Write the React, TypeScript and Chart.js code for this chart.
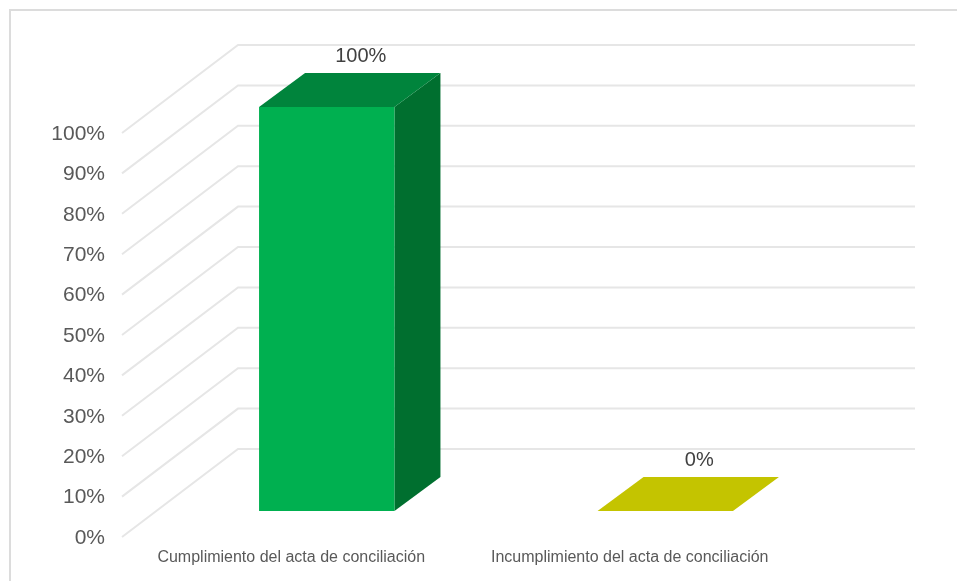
import React, { useEffect, useRef } from "react";
import { Chart, registerables } from "chart.js";

Chart.register(...registerables);

const categories = ["Cumplimiento del acta de conciliación", "Incumplimiento del acta de conciliación"];
const values = [100, 0];
const frontColors = ["#00b050", "#c4c400"];
const topColors = ["#00843c", "#c4c400"];
const sideColors = ["#006f2f", "#a3a300"];

const GRID = "#e6e6e6";
const wallDx = 116;
const wallDy = -88;
const barDx = 35.5;
const barDy = -26;
const depthDx = 46;
const depthDy = -34;

const poly = (ctx: CanvasRenderingContext2D, pts: number[][], color: string) => {
  ctx.beginPath();
  pts.forEach(([x, y], i) => (i ? ctx.lineTo(x, y) : ctx.moveTo(x, y)));
  ctx.closePath();
  ctx.fillStyle = color;
  ctx.fill();
};

const box3d = {
  id: "box3d",
  beforeDatasetsDraw(chart: any) {
    const { ctx, scales, chartArea } = chart;
    ctx.save();
    // outer frame
    ctx.strokeStyle = "#dcdcdc";
    ctx.lineWidth = 2;
    ctx.beginPath();
    ctx.moveTo(10, 581);
    ctx.lineTo(10, 10);
    ctx.lineTo(957, 10);
    ctx.stroke();
    // walls
    ctx.strokeStyle = GRID;
    ctx.lineWidth = 2;
    scales.y.ticks.forEach((t: any) => {
      const y = scales.y.getPixelForValue(t.value);
      ctx.beginPath();
      ctx.moveTo(chartArea.left, y);
      ctx.lineTo(chartArea.left + wallDx, y + wallDy);
      ctx.lineTo(chartArea.right + wallDx, y + wallDy);
      ctx.stroke();
    });
    ctx.restore();
  },
  beforeDatasetDraw(chart: any, args: any) {
    const { ctx } = chart;
    const meta = chart.getDatasetMeta(args.index);
    ctx.save();
    ctx.translate(barDx, barDy);
    meta.data.forEach((bar: any, i: number) => {
      const l = bar.x - bar.width / 2;
      const r = bar.x + bar.width / 2;
      if (bar.base - bar.y > 0.5) {
        poly(ctx, [[r, bar.y], [r + depthDx, bar.y + depthDy], [r + depthDx, bar.base + depthDy], [r, bar.base]], sideColors[i]);
      }
      poly(ctx, [[l, bar.y], [l + depthDx, bar.y + depthDy], [r + depthDx, bar.y + depthDy], [r, bar.y]], topColors[i]);
    });
  },
  afterDatasetDraw(chart: any) {
    chart.ctx.restore();
  },
  afterDatasetsDraw(chart: any) {
    const { ctx } = chart;
    const meta = chart.getDatasetMeta(0);
    ctx.save();
    ctx.font = '20px "Liberation Sans"';
    ctx.fillStyle = "#404040";
    ctx.textAlign = "center";
    ctx.textBaseline = "middle";
    meta.data.forEach((bar: any, i: number) => {
      ctx.fillText(`${values[i]}%`, bar.x + barDx + depthDx / 2 + 11, bar.y + barDy + depthDy - 17);
    });
    ctx.restore();
  },
};

const fitBox = (size: "width" | "height", amount: number) => (scale: any) => {
  scale[size] = amount;
  scale.paddingTop = 0;
  scale.paddingBottom = 0;
  scale.paddingLeft = 0;
  scale.paddingRight = 0;
};

export default function App() {
  const ref = useRef<HTMLCanvasElement>(null);
  useEffect(() => {
    const chart = new Chart(ref.current as HTMLCanvasElement, {
      type: "bar",
      data: {
        labels: categories,
        datasets: [
          {
            data: values,
            backgroundColor: frontColors,
            barPercentage: 0.4,
            categoryPercentage: 1,
            borderWidth: 0,
            clip: false,
          } as any,
        ],
      },
      options: {
        responsive: false,
        animation: false,
        devicePixelRatio: 1,
        layout: { padding: { top: 133, right: 158, left: 0, bottom: 0 } },
        plugins: { legend: { display: false }, tooltip: { enabled: false }, title: { display: false } },
        scales: {
          x: {
            afterFit: fitBox("height", 44),
            grid: { display: false, drawTicks: false },
            border: { display: false },
            ticks: {
              autoSkip: false,
              maxRotation: 0,
              padding: 11,
              color: "#595959",
              font: { family: '"Liberation Sans"', size: 16 },
            },
          },
          y: {
            min: 0,
            max: 100,
            afterFit: fitBox("width", 122),
            grid: { display: false, drawTicks: false },
            border: { display: false },
            ticks: {
              stepSize: 10,
              padding: 17,
              labelOffset: 1,
              color: "#595959",
              font: { family: '"Liberation Sans"', size: 21 },
              callback: (v: any) => `${v}%`,
            },
          },
        },
      },
      plugins: [box3d],
    } as any);
    return () => chart.destroy();
  }, []);
  return (
    <canvas
      ref={ref}
      width={957}
      height={581}
      style={{ position: "absolute", left: 0, top: 0, width: 957, height: 581, display: "block" }}
    />
  );
}
